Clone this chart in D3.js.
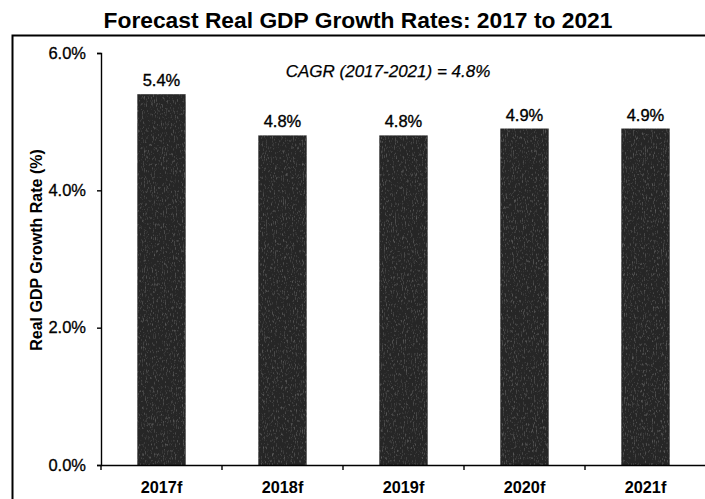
<!DOCTYPE html>
<html>
<head>
<meta charset="utf-8">
<script src="https://cdn.jsdelivr.net/npm/d3@7"></script>
<style>
  html, body { margin: 0; padding: 0; background: #fff; }
  svg { display: block; font-family: "Liberation Sans", Arial, sans-serif; }
</style>
</head>
<body>
<svg id="chart" width="705" height="499"></svg>
<script>
// Forecast real GDP growth, percent
const years = ["2017f", "2018f", "2019f", "2020f", "2021f"];
const growth = [5.4, 4.8, 4.8, 4.9, 4.9];
const yTicks = [0, 2, 4, 6];
const titleText = "Forecast Real GDP Growth Rates: 2017 to 2021";
const yAxisTitle = "Real GDP Growth Rate (%)";
const cagrNote = "CAGR (2017-2021) = 4.8%";

const svg = d3.select("#chart");
const W = 705, H = 499;
const plot = { left: 101, right: 706, top: 53, bottom: 465 };
const FONT = "Liberation Sans, Arial, sans-serif";

// grainy dark fill for the bars
const defs = svg.append("defs");
const grain = defs.append("filter").attr("id", "grain")
  .attr("x", 0).attr("y", 0).attr("width", 1).attr("height", 1);
grain.append("feTurbulence").attr("type", "fractalNoise")
  .attr("baseFrequency", "0.9 0.3").attr("numOctaves", 2).attr("seed", 4).attr("result", "noise");
grain.append("feColorMatrix").attr("in", "noise").attr("type", "matrix")
  .attr("values", "0 0 0 0 1  0 0 0 0 1  0 0 0 0 1  0 0 0 1.3 -0.72")
  .attr("result", "specks");
grain.append("feComposite").attr("in", "specks").attr("in2", "SourceGraphic")
  .attr("operator", "in").attr("result", "specksIn");
grain.append("feComponentTransfer").attr("in", "specksIn").attr("result", "soft")
  .append("feFuncA").attr("type", "linear").attr("slope", 0.2);
const merge = grain.append("feMerge");
merge.append("feMergeNode").attr("in", "SourceGraphic");
merge.append("feMergeNode").attr("in", "soft");

// frame around the chart area
svg.append("path")
  .attr("d", `M12.5,${H + 2} V35.5 H${W + 2}`)
  .attr("fill", "none").attr("stroke", "#000").attr("stroke-width", 2);

svg.append("text")
  .attr("x", 358).attr("y", 28)
  .attr("text-anchor", "middle")
  .attr("font-size", 22.8).attr("font-weight", "bold")
  .text(titleText);

const x = d3.scaleBand().domain(years).range([plot.left, plot.right]).padding(0);
const y = d3.scaleLinear().domain([0, 6]).range([plot.bottom, plot.top]);

const barW = x.bandwidth() * 0.4;

svg.append("g").selectAll("rect")
  .data(years)
  .join("rect")
  .attr("x", (d) => x(d) + (x.bandwidth() - barW) / 2)
  .attr("y", (d, i) => y(growth[i]))
  .attr("width", barW)
  .attr("height", (d, i) => y(0) - y(growth[i]))
  .attr("fill", "#282828")
  .attr("filter", "url(#grain)");

// value labels
svg.append("g").selectAll("text")
  .data(years)
  .join("text")
  .attr("x", (d) => x(d) + x.bandwidth() / 2)
  .attr("y", (d, i) => y(growth[i]) - 8)
  .attr("text-anchor", "middle")
  .attr("font-size", 16.5)
  .attr("stroke", "#000").attr("stroke-width", 0.35)
  .text((d, i) => d3.format(".1f")(growth[i]) + "%");

// y axis
const yAxis = svg.append("g")
  .attr("transform", `translate(${plot.left},0)`)
  .call(d3.axisLeft(y).tickValues(yTicks).tickSize(4).tickPadding(11)
    .tickFormat((d) => d3.format(".1f")(d) + "%"));
yAxis.selectAll("text").attr("font-size", 16.5).attr("font-family", FONT)
  .attr("fill", "#000").attr("stroke", "#000").attr("stroke-width", 0.3);
yAxis.selectAll("line, path").attr("stroke", "#000").attr("stroke-width", 1.4);

// x axis
const xAxis = svg.append("g")
  .attr("transform", `translate(0,${plot.bottom})`)
  .call(d3.axisBottom(x).tickSize(0).tickPadding(16));
xAxis.select(".domain").attr("stroke", "#000").attr("stroke-width", 1.6);
xAxis.selectAll("text").attr("font-size", 16.3).attr("font-weight", "bold")
  .attr("font-family", FONT).attr("fill", "#000");
// tick marks sit on the category boundaries
xAxis.append("g").selectAll("line")
  .data(years)
  .join("line")
  .attr("x1", (d) => x(d)).attr("x2", (d) => x(d))
  .attr("y1", 0).attr("y2", 5)
  .attr("stroke", "#000").attr("stroke-width", 1.4);

svg.append("text")
  .attr("transform", `translate(42,250) rotate(-90)`)
  .attr("text-anchor", "middle")
  .attr("font-size", 16).attr("font-weight", "bold")
  .text(yAxisTitle);

svg.append("text")
  .attr("x", 388).attr("y", 77)
  .attr("text-anchor", "middle")
  .attr("font-size", 17).attr("font-style", "italic")
  .attr("stroke", "#000").attr("stroke-width", 0.25)
  .text(cagrNote);
</script>
</body>
</html>
